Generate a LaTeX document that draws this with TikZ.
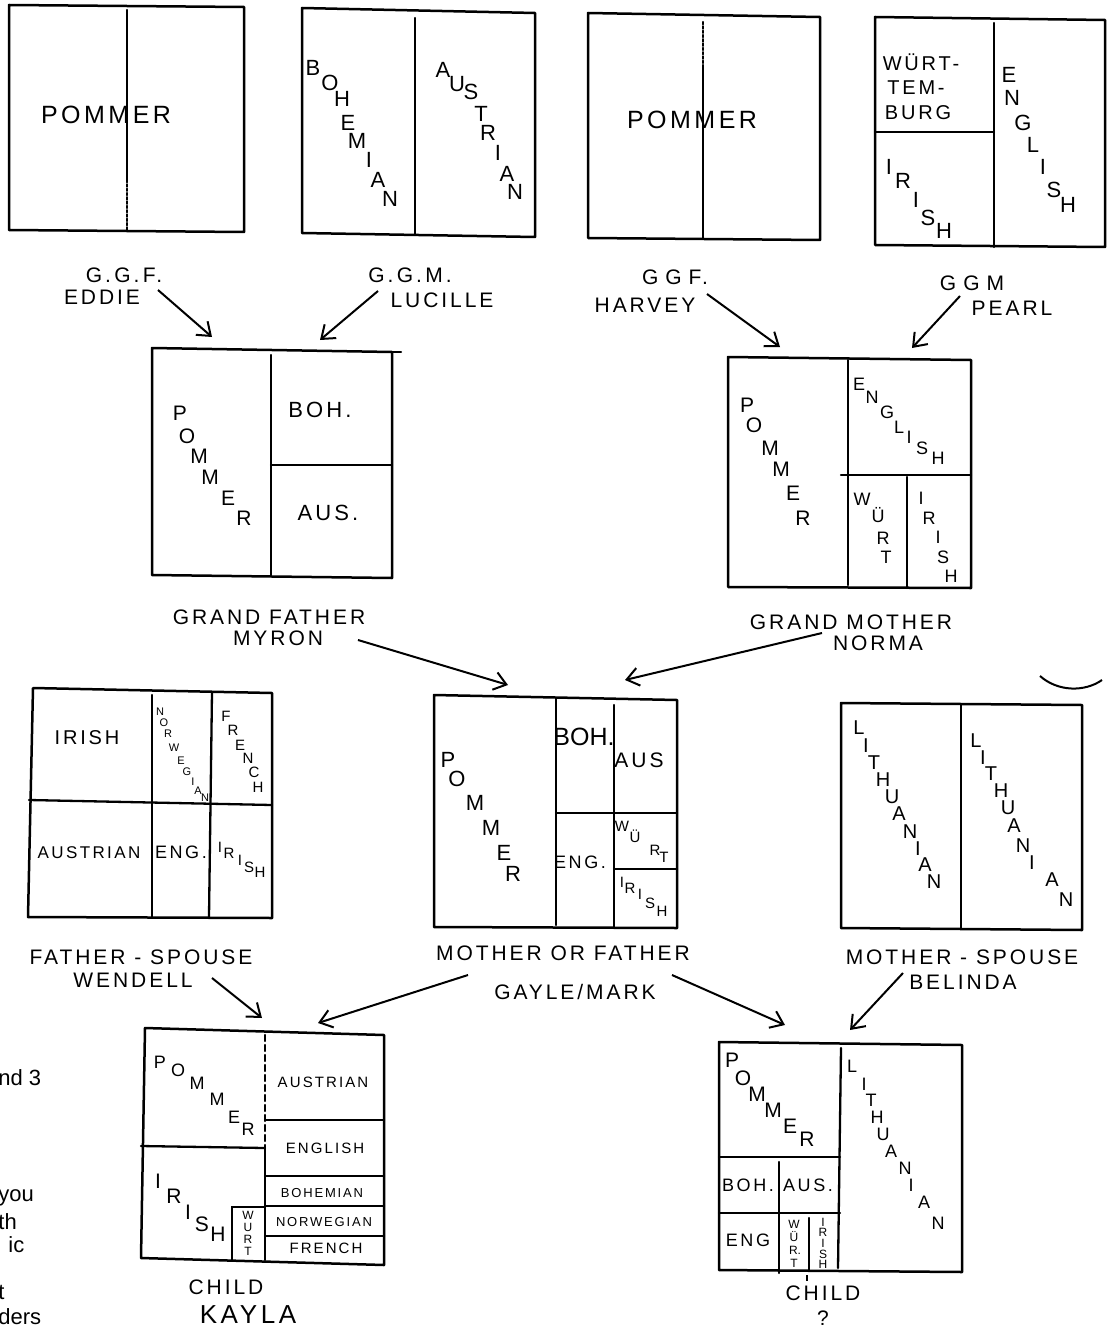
\documentclass[tikz,border=0pt]{standalone}
\usepackage{fontspec}
\setmainfont{Liberation Sans}
\newfontfamily\hand[LetterSpace=14]{Liberation Sans}
\newfontfamily\handl{Liberation Sans}
\usetikzlibrary{arrows.meta}
\newcommand\hsz[1]{\fontsize{#1}{#1}\selectfont}
\tikzset{
  xbox/.style={line width=1.25pt, line cap=round, line join=round},
  xdiv/.style={line width=1.15pt, line cap=round},
  xarr/.style={line width=1pt, -{Straight Barb[length=6pt,width=9pt]}},
  xlbl/.style={font=\hand\hsz{10.5}, inner sep=0pt},
  xcell/.style={font=\hand\hsz{11}, inner sep=0pt},
  xcellm/.style={font=\hand\hsz{9}, inner sep=0pt},
  xcells/.style={font=\hand\hsz{7.5}, inner sep=0pt},
  xcelt/.style={font=\hand\hsz{6.5}, inner sep=0pt},
  xbig/.style={font=\hand\hsz{12.5}, inner sep=0pt},
  xchA/.style={font=\handl\hsz{11}, inner sep=0pt},
  xchB/.style={font=\handl\hsz{10.5}, inner sep=0pt},
  xchL/.style={font=\handl\hsz{10}, inner sep=0pt},
  xchM/.style={font=\handl\hsz{9}, inner sep=0pt},
  xchC/.style={font=\handl\hsz{7.5}, inner sep=0pt},
  xchD/.style={font=\handl\hsz{6}, inner sep=0pt},
  xchE/.style={font=\handl\hsz{5.5}, inner sep=0pt},
  xfrag/.style={font=\handl\hsz{11}, inner sep=0pt, anchor=west}
}
\begin{document}
\begin{tikzpicture}[x=0.5pt,y=-0.5pt]
\path[use as bounding box] (0,0) rectangle (1110,1332);

% ---------- Box 1 : Eddie ----------
\draw[xbox] (9,5) -- (244,7) -- (244,232) -- (9,230) -- cycle;
\draw[xdiv] (127,10) -- (127,180);
\draw[xdiv,densely dotted] (127,180) -- (127,230);
\node[xbig] (pom1) at (106,115) {POMMER};

% ---------- Box 2 : Lucille ----------
\draw[xbox] (302,8) -- (535,13) -- (535,237) -- (302,233) -- cycle;
\draw[xdiv] (415,18) -- (415,235);
\foreach \c/\px/\py in {B/313/68,O/330/83,H/342/99,E/348/123,M/357/141,I/369/160,A/378/180,N/390/199}
  \node[xchA] (b2\px-\py) at (\px,\py) {\c};
\foreach \c/\px/\py in {A/443/70,U/457/84,S/471/92,T/481/114,R/488/133,I/498/153,A/507/174,N/515/192}
  \node[xchA] (b2\px-\py) at (\px,\py) {\c};

% ---------- Box 3 : Harvey ----------
\draw[xbox] (588,13) -- (820,17) -- (820,240) -- (588,238) -- cycle;
\draw[xdiv,densely dotted] (703,22) -- (703,67);
\draw[xdiv] (703,67) -- (703,238);
\node[xbig] (pom3) at (692,120) {POMMER};

% ---------- Box 4 : Pearl ----------
\draw[xbox] (875,17) -- (1105,20) -- (1105,247) -- (875,245) -- cycle;
\draw[xdiv] (994,23) -- (994,247);
\draw[xdiv] (875,132) -- (994,132);
\node[font=\hand\hsz{10}, inner sep=0pt] (wt1) at (921,62) {WÜRT-};
\node[font=\hand\hsz{10}, inner sep=0pt] (wt2) at (916,88) {TEM-};
\node[font=\hand\hsz{10}, inner sep=0pt] (wt3) at (918,113) {BURG};
\foreach \c/\px/\py in {I/889/167,R/903/181,I/916/200,S/928/218,H/944/231}
  \node[xchA] (b4\px-\py) at (\px,\py) {\c};
\foreach \c/\px/\py in {E/1009/75,N/1012/98,G/1023/123,L/1033/145,I/1043/167,S/1054/190,H/1068/205}
  \node[xchA] (b4\px-\py) at (\px,\py) {\c};

% ---------- top labels ----------
\node[xlbl] (ggf1) at (124,275) {G.\,G.\,F.};
\node[xlbl] (eddie) at (102,297) {EDDIE};
\node[xlbl] (ggm1) at (410,275) {G.\,G.\,M.};
\node[xlbl] (lucille) at (442,300) {LUCILLE};
\node[xlbl] (ggf2) at (675,277) {G\,\,G\,\,F.};
\node[xlbl] (harvey) at (645,305) {HARVEY};
\node[xlbl] (ggm2) at (972,283) {G\,\,G\,\,M};
\node[xlbl] (pearl) at (1012,308) {PEARL};

\coordinate (e1s) at (158,290); \coordinate (e1e) at (212,337);
\coordinate (l1s) at (378,291); \coordinate (l1e) at (320,340);
\coordinate (h1s) at (707,294); \coordinate (h1e) at (780,347);
\coordinate (p1s) at (960,296); \coordinate (p1e) at (912,348);
\draw[xarr] (e1s) -- (e1e);
\draw[xarr] (l1s) -- (l1e);
\draw[xarr] (h1s) -- (h1e);
\draw[xarr] (p1s) -- (p1e);

% ---------- Box 5 : Myron ----------
\draw[xbox] (152,348) -- (392,352) -- (392,578) -- (152,575) -- cycle;
\draw[xdiv] (392,352) -- (401,352);
\draw[xdiv] (271,355) -- (271,575);
\draw[xdiv] (271,465) -- (392,465);
\foreach \c/\px/\py in {P/180/413,O/187/436,M/199/456,M/210/477,E/228/498,R/244/518}
  \node[xchB] (b5\px-\py) at (\px,\py) {\c};
\node[xcell] (boh5) at (320,410) {BOH.};
\node[xcell] (aus5) at (328,513) {AUS.};
\node[xlbl] (gf) at (269,617) {GRAND FATHER};
\node[xlbl] (myron) at (278,638) {MYRON};

% ---------- Box 6 : Norma ----------
\draw[xbox] (728,357) -- (971,360) -- (971,588) -- (728,587) -- cycle;
\draw[xdiv] (848,360) -- (848,585);
\draw[xdiv] (841,475) -- (971,475);
\draw[xdiv] (907,477) -- (907,588);
\foreach \c/\px/\py in {P/747/405,O/754/425,M/770/448,M/781/469,E/793/493,R/803/518}
  \node[xchB] (b6\px-\py) at (\px,\py) {\c};
\foreach \c/\px/\py in {E/859/384,N/872/397,G/887/412,L/899/427,I/909/437,S/922/448,H/938/458}
  \node[xchM] (b6\px-\py) at (\px,\py) {\c};
\foreach \c/\px/\py in {W/862/499,Ü/878/515,R/883/538,T/886/557}
  \node[xchM] (b6\px-\py) at (\px,\py) {\c};
\foreach \c/\px/\py in {I/921/498,R/929/518,I/938/537,S/943/557,H/951/576}
  \node[xchM] (b6\px-\py) at (\px,\py) {\c};
\node[xlbl] (gm) at (851,622) {GRAND MOTHER};
\node[xlbl] (norma) at (878,643) {NORMA};

\coordinate (m1s) at (358,640); \coordinate (m1e) at (508,685);
\coordinate (n1s) at (822,633); \coordinate (n1e) at (625,680);
\draw[xarr] (m1s) -- (m1e);
\draw[xarr] (n1s) -- (n1e);

% small arc
\coordinate (arcA) at (1040,676); \coordinate (arcB) at (1102,680);
\draw[line width=1pt] (arcA) .. controls (1058,692) and (1085,692) .. (arcB);

% ---------- Box 7 : Wendell ----------
\draw[xbox] (33,688) -- (272,693) -- (272,918) -- (28,917) -- cycle;
\draw[xdiv] (152,695) -- (152,917);
\draw[xdiv] (212,692) -- (209,917);
\draw[xdiv] (29,800) -- (272,805);
\node[font=\hand\hsz{10}, inner sep=0pt] (ir7) at (87,738) {IRISH};
\foreach \c/\px/\py in {N/160/712,O/164/723,R/168/734,W/174/748,E/181/761,G/187/772,I/193/782,A/198/791,N/205/798}
  \node[xchE] (b7\px-\py) at (\px,\py) {\c};
\foreach \c/\px/\py in {F/226/716,R/233/730,E/240/745,N/248/758,C/254/772,H/258/787}
  \node[xchC] (b7\px-\py) at (\px,\py) {\c};
\node[font=\hand\hsz{8.5}, inner sep=0pt] (aus7) at (89,853) {AUSTRIAN};
\node[xcellm] (eng7) at (181,852) {ENG.};
\foreach \c/\px/\py in {I/220/847,R/229/853,I/240/860,S/249/867,H/260/872}
  \node[xchC] (b7\px-\py) at (\px,\py) {\c};
\node[xlbl] (fsp) at (141,957) {FATHER - SPOUSE};
\node[xlbl] (wendell) at (133,980) {WENDELL};

% ---------- Box 8 : Gayle/Mark ----------
\draw[xbox] (434,695) -- (677,700) -- (677,928) -- (434,927) -- cycle;
\draw[xdiv] (556,698) -- (556,925);
\draw[xdiv] (614,705) -- (614,927);
\draw[xdiv] (556,813) -- (677,813);
\draw[xdiv] (614,869) -- (677,869);
\foreach \c/\px/\py in {P/448/760,O/457/779,M/475/803,M/491/828,E/504/853,R/513/874}
  \node[xchA] (b8\px-\py) at (\px,\py) {\c};
\node[font=\handl\hsz{12.5}, inner sep=0pt] (boh8) at (584,737) {BOH.};
\node[font=\hand\hsz{10.5}, inner sep=0pt] (aus8) at (639,760) {AUS};
\node[xcellm] (eng8) at (580,862) {ENG.};
\foreach \c/\px/\py in {W/622/826,Ü/635/836,R/655/850,T/664/857}
  \node[xchC] (b8\px-\py) at (\px,\py) {\c};
\foreach \c/\px/\py in {I/622/882,R/630/888,I/640/894,S/650/903,H/662/911}
  \node[xchC] (b8\px-\py) at (\px,\py) {\c};
\node[xlbl] (mof) at (563,953) {MOTHER OR FATHER};
\node[xlbl] (gayle) at (575,992) {GAYLE/MARK};

% ---------- Box 9 : Belinda ----------
\draw[xbox] (841,703) -- (1082,705) -- (1082,930) -- (841,928) -- cycle;
\draw[xdiv] (961,705) -- (961,928);
\foreach \c/\px/\py in {L/859/728,I/866/746,T/874/763,H/883/780,U/892/797,A/899/814,N/910/832,I/918/849,A/925/865,N/934/882}
  \node[xchL] (b9\px-\py) at (\px,\py) {\c};
\foreach \c/\px/\py in {L/976/741,I/983/758,T/991/774,H/1001/791,U/1008/808,A/1014/826,N/1023/846,I/1032/863,A/1052/880,N/1066/900}
  \node[xchL] (b9\px-\py) at (\px,\py) {\c};
\node[xlbl] (msp) at (962,957) {MOTHER - SPOUSE};
\node[xlbl] (belinda) at (963,982) {BELINDA};

\coordinate (w1s) at (212,978); \coordinate (w1e) at (262,1018);
\coordinate (g1s) at (468,975); \coordinate (g1e) at (318,1023);
\coordinate (g2s) at (672,975); \coordinate (g2e) at (785,1025);
\coordinate (bl1s) at (903,973); \coordinate (bl1e) at (850,1030);
\draw[xarr] (w1s) -- (w1e);
\draw[xarr] (g1s) -- (g1e);
\draw[xarr] (g2s) -- (g2e);
\draw[xarr] (bl1s) -- (bl1e);

% ---------- Box 10 : Kayla ----------
\draw[xbox] (145,1028) -- (384,1035) -- (384,1265) -- (141,1258) -- cycle;
\draw[xdiv,densely dashed] (265,1035) -- (265,1146);
\draw[xdiv] (265,1146) -- (265,1260);
\draw[xdiv] (141,1146) -- (265,1148);
\draw[xdiv] (265,1120) -- (384,1120);
\draw[xdiv] (265,1176) -- (384,1176);
\draw[xdiv] (265,1206) -- (384,1206);
\draw[xdiv] (265,1236) -- (384,1236);
\draw[xdiv] (232,1260) -- (232,1207) -- (265,1207);
\foreach \c/\px/\py in {P/160/1062,O/178/1070,M/197/1083,M/217/1099,E/234/1117,R/248/1129}
  \node[xchM] (b10\px-\py) at (\px,\py) {\c};
\node[xcells] (aus10) at (323,1082) {AUSTRIAN};
\node[xcells] (eng10) at (325,1148) {ENGLISH};
\node[xcelt] (boh10) at (322,1193) {BOHEMIAN};
\node[xcelt] (nor10) at (324,1222) {NORWEGIAN};
\node[xcells] (fre10) at (326,1248) {FRENCH};
\foreach \c/\px/\py in {I/158/1181,R/174/1196,I/188/1212,S/202/1224,H/218/1234}
  \node[xchB] (b10\px-\py) at (\px,\py) {\c};
\foreach \c/\px/\py in {W/248/1215,U/248/1227,R/248/1239,T/248/1251}
  \node[xchD] (b10\px-\py) at (\px,\py) {\c};
\node[xlbl] (child1) at (226,1287) {CHILD};
\node[font=\hand\hsz{13}, inner sep=0pt] (kayla) at (248,1315) {KAYLA};

% ---------- Box 11 : Child ? ----------
\draw[xbox] (719,1042) -- (962,1045) -- (962,1272) -- (719,1270) -- cycle;
\draw[xdiv] (841,1048) -- (838,1268);
\draw[xdiv] (719,1157) -- (840,1157);
\draw[xdiv] (719,1213) -- (840,1213);
\draw[xdiv] (779,1162) -- (779,1273);
\draw[xdiv] (809,1218) -- (809,1270);
\draw[line width=0.8pt] (807,1275) -- (807,1281);
\foreach \c/\px/\py in {P/732/1060,O/743/1078,M/757/1094,M/773/1110,E/790/1126,R/807/1139}
  \node[xchB] (b11\px-\py) at (\px,\py) {\c};
\node[xcellm] (boh11) at (748,1185) {BOH.};
\node[xcellm] (aus11) at (808,1185) {AUS.};
\node[xcellm] (eng11) at (748,1240) {ENG};
\foreach \c/\px/\py in {W/794/1224,Ü/794/1237,R./795/1250,T/794/1263}
  \node[xchD] (b11\px-\py) at (\px,\py) {\c};
\foreach \c/\px/\py in {I/823/1222,R/823/1232,I/823/1243,S/823/1254,H/823/1264}
  \node[xchD] (b11\px-\py) at (\px,\py) {\c};
\foreach \c/\px/\py in {L/852/1066,I/864/1084,T/871/1100,H/877/1117,U/883/1134,A/891/1151,N/905/1168,I/911/1185,A/924/1202,N/938/1223}
  \node[xchM] (b11\px-\py) at (\px,\py) {\c};
\node[xlbl] (child2) at (823,1293) {CHILD};
\node[xlbl] (qm) at (823,1318) {?};

% ---------- cut-off text at the left edge ----------
\node[xfrag] (f1) at (-2,1078) {nd 3};
\node[xfrag] (f2) at (-2,1198) {you};
\node[xfrag] (f3) at (-2,1222) {th};
\node[xfrag] (f4) at (8,1245) {ic};
\node[xfrag] (f5) at (-2,1292) {t};
\node[xfrag] (f6) at (-2,1317) {ders};
\end{tikzpicture}
\end{document}
